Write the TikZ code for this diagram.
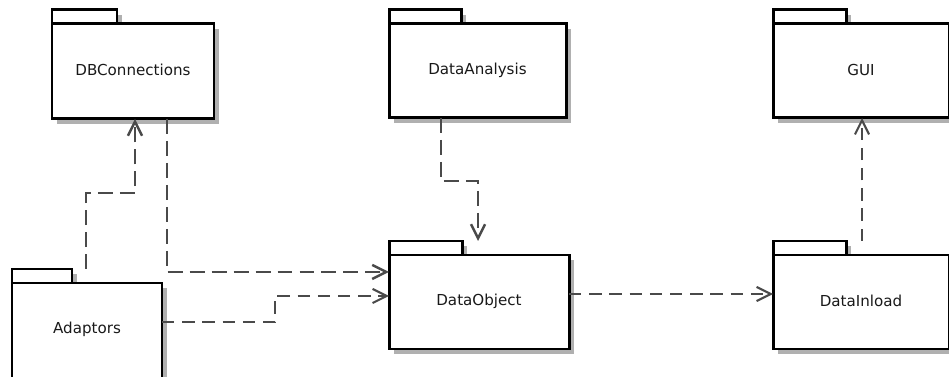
\documentclass[tikz,border=0pt]{standalone}
\usepackage{fontspec}
\setmainfont{DejaVu Sans}
\usetikzlibrary{arrows.meta,calc}
\definecolor{depgray}{HTML}{4A4A4A}
\definecolor{shadowgray}{HTML}{B0B0B0}
\tikzset{
    pkgline/.style={draw=black, line width=1.7pt, fill=white},
    pkgbody/.style={pkgline, rectangle, anchor=north west, inner sep=0pt, outer sep=0pt},
    pkgtext/.style={font=\fontsize{8.6}{10}\selectfont, text=black!90, inner sep=0pt},
    pkgshadow/.style={fill=shadowgray},
    dep/.style={draw=depgray, line width=1.6pt, dash pattern=on 8.5pt off 4pt,
        -{Straight Barb[length=8pt,width=8pt,line width=1.4pt]}},
    depthin/.style={dep, line width=1pt, dash pattern=on 7pt off 4.5pt,
        -{Straight Barb[length=8pt,width=8pt,line width=1.2pt]}}
}
% name, x, y, width, height, tab width, text (pixel units)
\newcommand{\umlpkg}[7]{%
    \fill[pkgshadow] (#2+5,#3-9) rectangle ++(#6,14);
    \fill[pkgshadow] (#2+5,#3+5) rectangle ++(#4,#5);
    \node[pkgbody, minimum width=#6*0.02cm, minimum height=14*0.02cm] (#1-tab) at (#2,#3-14) {};
    \node[pkgbody, minimum width=#4*0.02cm, minimum height=#5*0.02cm] (#1) at (#2,#3) {};
    \node[pkgtext] (#1-t) at ($(#1.north)+(0,46)$) {#7};
}

\begin{document}
\begin{tikzpicture}[x=0.02cm, y=-0.02cm]
        \useasboundingbox (0,0) rectangle (949,377);
        \clip (0,0) rectangle (949,377);
        \umlpkg{dbc}{52}{24}{162}{95}{65}{DBConnections}
        \umlpkg{ana}{389}{24}{177}{94}{72}{DataAnalysis}
        \umlpkg{gui}{773}{24}{176}{94}{73}{GUI}
        \umlpkg{adp}{12}{283}{150}{110}{60}{Adaptors}
        \umlpkg{obj}{389}{255}{180}{94}{73}{DataObject}
        \umlpkg{inl}{773}{255}{176}{94}{73}{DataInload}
        \draw[dep] (86,0 |- adp-tab.north) |- (135,193) -- (135,0 |- dbc.south);
        \draw[dep] (167,0 |- dbc.south) |- (obj.west |- 0,272);
        \draw[depthin] (adp.east |- 0,322) -- (275,322) |- (obj.west |- 0,296);
        \draw[dep] (441,0 |- ana.south) |- (478,181) -- (478,0 |- obj-tab.north);
        \draw[depthin] (obj.east |- 0,294) -- (inl.west |- 0,294);
        \draw[depthin] (862,0 |- inl-tab.north) -- (862,0 |- gui.south);
\end{tikzpicture}
\end{document}
